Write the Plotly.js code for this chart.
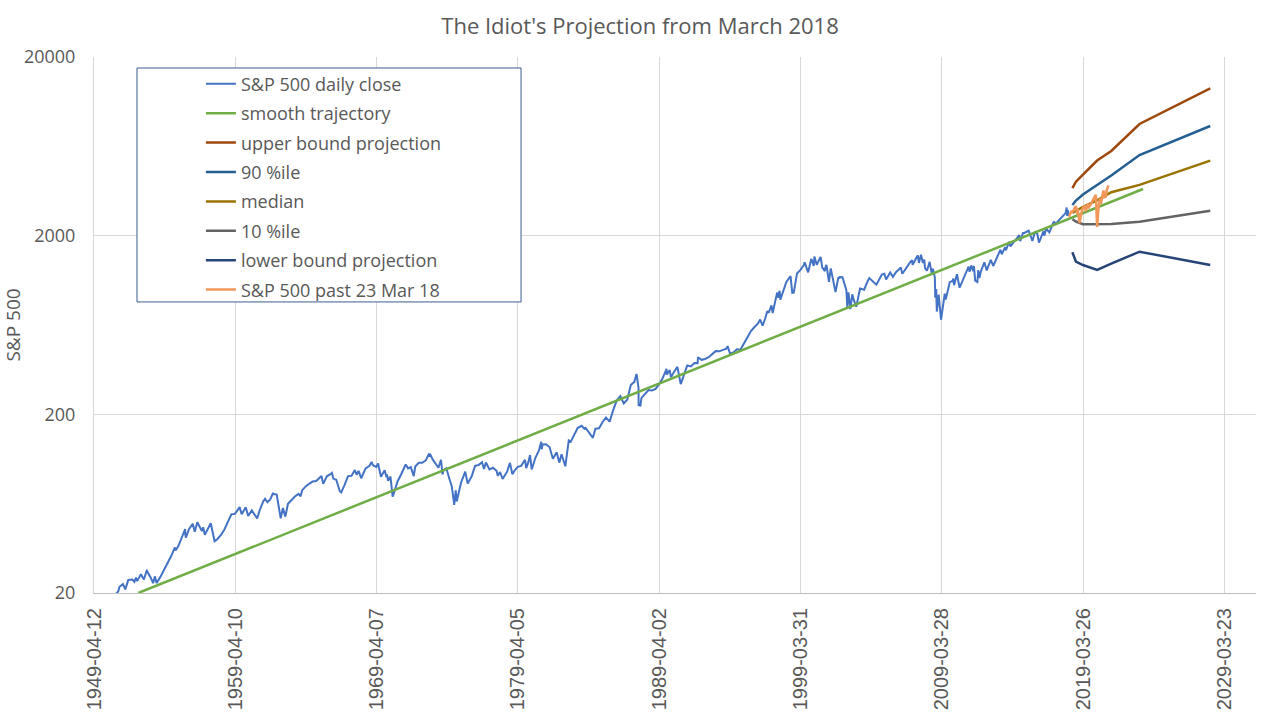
<!DOCTYPE html>
<html>
<head>
<meta charset="utf-8">
<script src="https://cdn.plot.ly/plotly-3.0.1.min.js"></script>
<style>
  html, body { margin: 0; padding: 0; background: #ffffff; }
  #chart { width: 1280px; height: 720px; }
</style>
</head>
<body>
<div id="chart"></div>
<script>
// S&P 500 close (turning points + quarter ends)
var spxDates = [
  '1950-01-03','1950-03-31','1950-06-12','1950-07-17','1950-09-29','1950-12-29',
  '1951-01-31','1951-04-30','1951-06-29','1951-09-14','1951-12-31',
  '1952-02-20','1952-03-31','1952-05-01','1952-08-05','1952-10-22','1952-12-31',
  '1953-01-05','1953-04-24','1953-06-16','1953-08-04','1953-09-14','1953-12-31',
  '1954-03-31','1954-06-30','1954-09-30','1954-12-31',
  '1955-01-17','1955-03-31','1955-06-30','1955-09-23','1955-09-26','1955-10-11','1955-12-30',
  '1956-04-06','1956-05-28','1956-08-02','1956-11-29','1956-12-31',
  '1957-02-12','1957-07-15','1957-10-22','1957-12-31',
  '1958-03-31','1958-06-30','1958-09-30','1958-12-31',
  '1959-03-31','1959-07-31','1959-09-22','1959-12-31',
  '1960-01-05','1960-03-08','1960-06-09','1960-10-25','1960-12-30',
  '1961-03-31','1961-05-17','1961-07-18','1961-09-29','1961-12-12','1961-12-29',
  '1962-03-15','1962-05-28','1962-06-26','1962-08-22','1962-10-23','1962-12-31',
  '1963-03-29','1963-06-28','1963-09-30','1963-11-22','1963-12-31',
  '1964-03-31','1964-06-30','1964-09-30','1964-12-31',
  '1965-05-13','1965-06-28','1965-09-30','1965-12-31',
  '1966-02-09','1966-03-15','1966-05-31','1966-08-29','1966-10-07','1966-12-30',
  '1967-03-31','1967-06-30','1967-09-25','1967-11-07','1967-12-29',
  '1968-03-05','1968-06-28','1968-09-30','1968-11-29','1968-12-31',
  '1969-03-31','1969-05-14','1969-07-29','1969-10-31','1969-12-17','1969-12-31',
  '1970-01-30','1970-03-31','1970-05-26','1970-06-30','1970-09-30','1970-12-31',
  '1971-04-28','1971-06-30','1971-09-08','1971-11-23','1971-12-31',
  '1972-03-31','1972-06-30','1972-09-29','1972-12-11','1972-12-29',
  '1973-01-11','1973-03-30','1973-06-29','1973-08-22','1973-10-26','1973-12-05','1973-12-31',
  '1974-03-13','1974-05-31','1974-07-31','1974-09-30','1974-10-03','1974-11-11','1974-12-06','1974-12-31',
  '1975-03-31','1975-07-15','1975-09-16','1975-12-31',
  '1976-03-24','1976-06-30','1976-09-21','1976-11-10','1976-12-31',
  '1977-03-31','1977-06-30','1977-09-30','1977-11-02','1977-12-30',
  '1978-03-06','1978-06-30','1978-09-12','1978-11-14','1978-12-29',
  '1979-03-30','1979-06-29','1979-10-05','1979-11-07','1979-12-31',
  '1980-02-13','1980-03-27','1980-06-30','1980-09-30','1980-11-28','1980-12-11','1980-12-31',
  '1981-03-31','1981-06-30','1981-09-25','1981-12-31',
  '1982-03-08','1982-05-07','1982-08-12','1982-09-30','1982-11-09','1982-12-31',
  '1983-03-31','1983-06-30','1983-10-10','1983-12-30',
  '1984-01-06','1984-03-30','1984-07-24','1984-09-28','1984-12-31',
  '1985-03-29','1985-06-28','1985-09-30','1985-11-29','1985-12-31',
  '1986-03-31','1986-07-02','1986-09-29','1986-12-31',
  '1987-03-31','1987-06-30','1987-08-25','1987-10-16','1987-10-19','1987-12-04','1987-12-31',
  '1988-03-31','1988-06-30','1988-09-30','1988-12-30',
  '1989-03-31','1989-06-30','1989-10-09','1989-10-13','1989-12-29',
  '1990-01-30','1990-03-30','1990-07-16','1990-10-11','1990-12-31',
  '1991-03-28','1991-06-28','1991-09-30','1991-12-20','1991-12-31',
  '1992-03-31','1992-06-30','1992-09-30','1992-12-31',
  '1993-03-31','1993-06-30','1993-09-30','1993-12-31',
  '1994-02-02','1994-04-04','1994-06-30','1994-09-30','1994-12-30',
  '1995-03-31','1995-06-30','1995-09-29','1995-12-29',
  '1996-03-29','1996-05-24','1996-07-24','1996-09-30','1996-11-25','1996-12-31',
  '1997-03-11','1997-04-11','1997-06-30','1997-08-06','1997-08-29','1997-10-07','1997-10-27','1997-12-31',
  '1998-03-31','1998-07-17','1998-08-31','1998-10-08','1998-12-31',
  '1999-03-31','1999-06-30','1999-07-16','1999-10-15','1999-12-31',
  '2000-01-14','2000-03-07','2000-03-24','2000-05-24','2000-09-01','2000-10-12','2000-12-20','2000-12-29',
  '2001-01-30','2001-04-04','2001-05-21','2001-09-21','2001-12-05','2001-12-31',
  '2002-01-04','2002-03-19','2002-06-28','2002-07-23','2002-08-22','2002-10-09','2002-11-27','2002-12-31',
  '2003-03-11','2003-06-17','2003-09-30','2003-12-31',
  '2004-02-11','2004-08-12','2004-12-31',
  '2005-03-07','2005-04-20','2005-08-03','2005-10-13','2005-12-30',
  '2006-05-05','2006-06-13','2006-09-29','2006-12-29',
  '2007-02-20','2007-03-05','2007-07-19','2007-08-15','2007-10-09','2007-11-26','2007-12-31',
  '2008-01-22','2008-03-10','2008-05-19','2008-07-15','2008-08-11','2008-09-30','2008-10-10','2008-11-04','2008-11-20','2008-12-31',
  '2009-01-06','2009-03-09','2009-06-12','2009-07-08','2009-10-19','2009-12-31',
  '2010-01-19','2010-02-08','2010-04-23','2010-07-02','2010-09-30','2010-12-31',
  '2011-02-18','2011-03-16','2011-04-29','2011-06-15','2011-07-07','2011-08-08','2011-10-03','2011-10-27','2011-11-25','2011-12-30',
  '2012-04-02','2012-06-01','2012-09-14','2012-11-15','2012-12-31',
  '2013-05-21','2013-06-24','2013-09-18','2013-10-08','2013-12-31',
  '2014-02-03','2014-04-11','2014-09-18','2014-10-15','2014-12-29','2014-12-31',
  '2015-05-21','2015-08-25','2015-11-03','2015-12-31',
  '2016-02-11','2016-06-08','2016-06-27','2016-08-15','2016-11-04','2016-12-30',
  '2017-03-01','2017-04-13','2017-06-30','2017-09-29','2017-12-29',
  '2018-01-26','2018-02-08','2018-02-26','2018-03-23'
];
var spxClose = [
  16.66,17.29,19.40,16.68,19.45,20.41,
  21.66,22.43,20.96,23.69,23.77,
  23.09,24.37,23.31,25.44,23.80,26.57,
  26.66,24.20,22.70,24.78,22.71,24.81,
  26.94,29.21,32.31,35.98,
  34.58,36.58,41.03,45.63,42.61,40.80,45.48,
  48.85,44.10,49.74,44.38,46.67,
  42.39,49.13,38.98,39.99,
  42.10,45.24,50.06,55.21,
  55.44,60.51,55.14,59.89,
  60.39,54.02,58.00,52.30,58.11,
  65.06,67.39,64.41,66.73,72.64,71.55,
  71.06,55.50,52.32,59.78,53.49,63.10,
  66.57,69.37,71.70,69.61,75.02,
  78.98,81.69,84.18,84.75,
  90.27,81.60,89.96,92.43,
  94.06,87.35,86.13,74.53,73.20,80.33,
  90.20,90.64,97.59,91.78,96.47,
  87.72,99.58,102.67,108.37,103.86,
  101.51,106.16,89.48,97.24,89.20,92.06,
  85.02,89.63,69.29,72.72,84.21,92.15,
  104.77,99.70,101.34,90.16,102.09,
  107.20,107.14,110.55,119.12,118.05,
  120.24,111.52,104.26,100.53,111.38,92.16,97.55,
  99.74,87.28,79.31,63.54,62.28,75.00,65.01,68.56,
  83.36,95.61,82.09,90.19,
  102.85,104.28,107.83,98.81,107.46,
  98.42,100.48,96.53,90.71,95.10,
  86.90,95.53,106.99,92.49,96.11,
  101.59,102.91,111.27,99.87,107.94,
  118.44,98.22,114.24,125.46,140.52,127.36,135.76,
  136.00,131.21,112.77,122.55,
  107.34,119.47,102.42,120.42,143.02,140.64,
  152.96,168.11,172.65,164.93,
  169.28,159.18,147.82,166.10,167.24,
  180.66,191.85,182.08,202.17,211.28,
  238.90,252.70,229.91,242.17,
  291.70,304.00,336.77,282.70,224.84,223.92,247.08,
  258.89,273.50,271.91,277.72,
  294.87,317.98,359.80,333.65,353.40,
  322.98,339.94,368.95,295.46,330.22,
  375.22,371.16,387.86,387.04,417.09,
  403.69,408.14,417.80,435.71,
  451.67,450.53,458.93,466.45,
  482.00,438.92,444.27,462.69,459.27,
  500.71,544.75,584.41,615.93,
  645.50,678.51,626.65,687.31,757.03,740.74,
  813.65,737.65,885.14,960.32,899.47,983.12,876.99,970.43,
  1101.75,1186.75,957.28,959.44,1229.23,
  1286.37,1372.71,1418.78,1247.41,1469.25,
  1465.15,1355.62,1527.46,1373.86,1520.77,1329.78,1264.74,1320.28,
  1373.73,1103.25,1312.83,965.80,1170.35,1148.08,
  1172.51,1170.29,989.82,797.70,962.70,776.76,938.87,879.82,
  800.73,1011.66,995.97,1111.92,
  1157.76,1063.23,1211.92,
  1225.31,1137.50,1245.04,1176.84,1248.29,
  1325.76,1223.69,1335.85,1418.30,
  1459.68,1374.12,1553.08,1406.70,1565.15,1407.22,1468.36,
  1310.50,1273.37,1426.63,1214.91,1305.32,1166.36,899.22,1005.75,752.44,903.25,
  934.70,676.53,946.21,879.13,1097.91,1115.10,
  1150.23,1056.74,1217.28,1022.58,1141.20,1257.64,
  1343.01,1256.88,1363.61,1265.42,1353.22,1119.46,1099.23,1284.59,1158.67,1257.60,
  1419.04,1278.04,1465.77,1353.33,1426.19,
  1669.16,1573.09,1725.52,1655.45,1848.36,
  1741.89,1815.69,2011.36,1862.49,2090.57,2058.90,
  2130.82,1867.61,2109.79,2043.94,
  1829.08,2119.12,2000.54,2190.15,2085.18,2238.83,
  2395.96,2328.95,2423.41,2519.36,2673.61,
  2872.87,2581.00,2779.60,2588.26
];

// smooth trajectory
var smoothDates = ['1952-05-30','1970-01-01','1990-01-01','2010-01-01','2023-06-21'];
var smoothVals  = [20, 72.6, 314, 1358, 3648];

// projections from 23 Mar 2018 (3 mo, 6 mo, 1, 2, 3, 5, 10 years)
var projDates = ['2018-06-23','2018-09-23','2019-03-23','2020-03-23','2021-03-23','2023-03-23','2028-03-23'];
var upperVals  = [3696, 4009, 4394, 5268, 5956, 8434, 13357];
var p90Vals    = [2970, 3146, 3400, 3842, 4342, 5656, 8222];
var medianVals = [2680, 2760, 2900, 3150, 3500, 3850, 5256];
var p10Vals    = [2470, 2400, 2316, 2316, 2323, 2394, 2758];
var lowerVals  = [1614, 1430, 1370, 1285, 1394, 1627, 1370];

// S&P 500 after 23 Mar 2018
var pastDates = [
  '2018-03-23','2018-04-02','2018-05-01','2018-06-01','2018-07-02','2018-08-01','2018-09-20',
  '2018-10-29','2018-11-07','2018-12-24','2019-01-31','2019-03-01','2019-04-30','2019-06-03',
  '2019-07-26','2019-08-05','2019-09-30','2019-10-31','2019-11-29','2019-12-31','2020-02-19',
  '2020-03-23','2020-04-30','2020-06-08','2020-06-26','2020-07-31','2020-09-02','2020-09-23',
  '2020-10-12','2020-10-30','2020-11-30','2020-12-31','2021-01-08'
];
var pastVals = [
  2588,2582,2655,2735,2726,2813,2930,
  2641,2814,2351,2704,2803,2946,2744,
  3025,2844,2977,3038,3141,3231,3386,
  2237,2912,3232,3009,3271,3580,3237,
  3534,3270,3622,3756,3824
];

var xTicks = ['1949-04-12','1959-04-10','1969-04-07','1979-04-05','1989-04-02',
              '1999-03-31','2009-03-28','2019-03-26','2029-03-23'];
var yTicks = [20, 200, 2000, 20000];

function line(name, x, y, color, width) {
  return {
    x: x, y: y, name: name, legendgroup: name,
    type: 'scatter', mode: 'lines',
    line: { color: color, width: width },
    hoverinfo: 'skip'
  };
}

var data = [
  line('S&P 500 daily close', spxDates, spxClose, '#4472C4', 2),
  line('smooth trajectory', smoothDates, smoothVals, '#70AD47', 2.5),
  line('upper bound projection', projDates, upperVals, '#9E480E', 2.5),
  line('90 %ile', projDates, p90Vals, '#255E91', 2.5),
  line('median', projDates, medianVals, '#997300', 2.5),
  line('10 %ile', projDates, p10Vals, '#636363', 2.5),
  line('lower bound projection', projDates, lowerVals, '#264478', 2.5),
  line('S&P 500 past 23 Mar 18', pastDates, pastVals, '#F1975A', 2.5)
];

var textColor = '#595959';
var font = 'Open Sans, Liberation Sans, sans-serif';

var layout = {
  width: 1280,
  height: 720,
  margin: { l: 94, r: 24, t: 57, b: 127 },
  paper_bgcolor: '#ffffff',
  plot_bgcolor: '#ffffff',
  title: {
    text: "The Idiot's Projection from March 2018",
    font: { family: font, size: 22, color: textColor },
    x: 0.5, xanchor: 'center', y: 0.963, yanchor: 'middle'
  },
  xaxis: {
    type: 'date',
    range: ['1949-04-12', '2031-06-18'],
    tickmode: 'array',
    tickvals: xTicks,
    ticktext: xTicks,
    tickangle: -90,
    ticklabelstandoff: 6,
    tickfont: { family: 'Liberation Sans, Arial, sans-serif', size: 20, color: textColor },
    showgrid: true, gridcolor: '#d9d9d9', gridwidth: 1,
    showline: true, linecolor: '#bfbfbf', linewidth: 1,
    zeroline: false, ticks: '', ticklen: 0
  },
  yaxis: {
    type: 'log',
    range: [Math.log10(20), Math.log10(20000)],
    tickmode: 'array',
    tickvals: yTicks,
    ticktext: yTicks.map(String),
    ticklabelstandoff: 14,
    tickfont: { family: font, size: 18, color: textColor },
    showgrid: true, gridcolor: '#d9d9d9', gridwidth: 1,
    showline: true, linecolor: '#d9d9d9', linewidth: 1,
    zeroline: false, ticks: '',
    title: { text: 'S&P 500', font: { family: font, size: 19, color: textColor }, standoff: 2 }
  },
  showlegend: true,
  legend: {
    x: 0.092, y: 0.984, xanchor: 'left', yanchor: 'top',
    bgcolor: 'rgba(255,255,255,0)',
    borderwidth: 0,
    traceorder: 'grouped',
    tracegroupgap: 3,
    font: { family: font, size: 18, color: textColor }
  },
  shapes: [{
    type: 'rect', xref: 'paper', yref: 'paper',
    x0: 0.037, x1: 0.3675, y0: 0.543, y1: 0.9795,
    line: { color: '#3B5F8E', width: 1 },
    fillcolor: 'rgba(255,255,255,1)',
    layer: 'above'
  }]
};

Plotly.newPlot('chart', data, layout, { displayModeBar: false, staticPlot: true });
</script>
</body>
</html>
